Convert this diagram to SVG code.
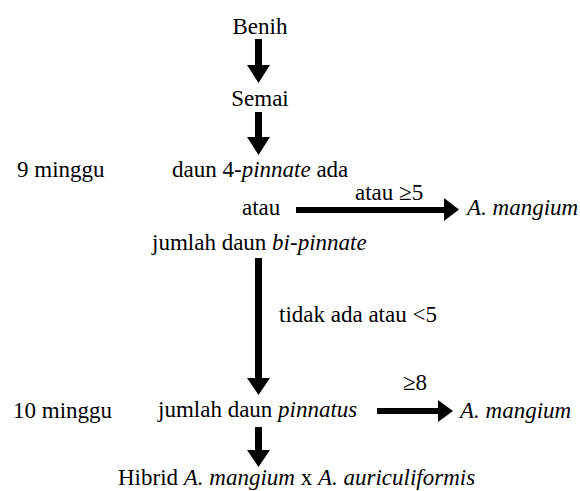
<svg xmlns="http://www.w3.org/2000/svg" width="580" height="491" viewBox="0 0 580 491" font-family="'Liberation Serif', Tinos, 'Times New Roman', Times, 'DejaVu Serif', serif" font-size="23">
<style>
text{font-family:'Liberation Serif',Tinos,'Times New Roman',Times,'DejaVu Serif',serif;font-size:23px;fill:#000}
.i{font-style:italic}
.c{text-anchor:middle}
.arr{fill:#000;stroke:none}
</style>
<rect width="580" height="491" fill="#fff"/>
<g id="connectors">
<polygon class="arr" points="255,39 262,39 262,65 270,65 258.5,83 247,65 255,65"/>
<polygon class="arr" points="255,112 262,112 262,137 270,137 258.5,155 247,137 255,137"/>
<polygon class="arr" points="255,258 262,258 262,378 270,378 258.5,395 247,378 255,378"/>
<polygon class="arr" points="255,427 262,427 262,450 270,450 258.5,467 247,450 255,450"/>
<polygon class="arr" points="296,207 444,207 444,198 459,209.5 444,221 444,213 296,213"/>
<polygon class="arr" points="377,408 438,408 438,400 453,411 438,422 438,414 377,414"/>
<text x="355" y="200">atau ≥5</text>
<text x="279" y="322">tidak ada atau &lt;5</text>
<text x="403" y="390">≥8</text>
</g>
<g id="benih"><text class="c" x="260" y="34">Benih</text></g>
<g id="semai"><text class="c" x="260" y="106">Semai</text></g>
<g id="minggu9"><text x="17" y="177">9 minggu</text></g>
<g id="kriteria9">
<text x="172" y="177">daun 4-<tspan class="i">pinnate</tspan> ada</text>
<text x="242" y="215">atau</text>
<text x="152" y="250">jumlah daun <tspan class="i">bi-pinnate</tspan></text>
</g>
<g id="mangium1"><text class="i" x="467" y="215">A. mangium</text></g>
<g id="minggu10"><text x="13" y="418">10 minggu</text></g>
<g id="pinnatus"><text x="158" y="417">jumlah daun <tspan class="i">pinnatus</tspan></text></g>
<g id="mangium2"><text class="i" x="460" y="418">A. mangium</text></g>
<g id="hibrid"><text x="118" y="485">Hibrid <tspan class="i">A. mangium</tspan> x <tspan class="i">A. auriculiformis</tspan></text></g>
</svg>
